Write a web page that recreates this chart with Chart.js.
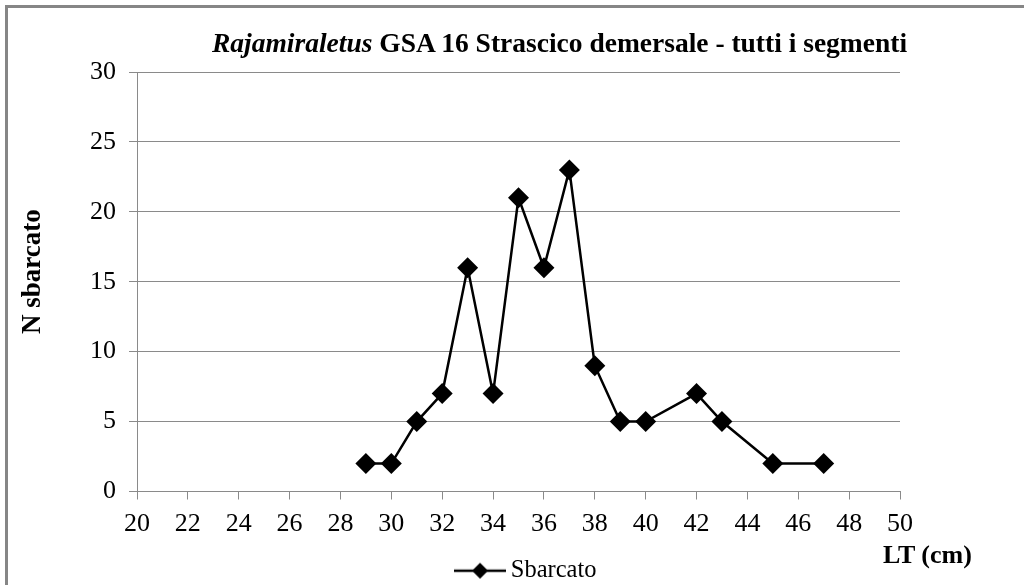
<!DOCTYPE html>
<html>
<head>
<meta charset="utf-8">
<script src="https://cdn.jsdelivr.net/npm/chart.js@4.4.1/dist/chart.umd.min.js"></script>
<style>
  html, body { margin: 0; padding: 0; background: #fff; overflow: hidden; }
  #wrap { position: relative; width: 1024px; height: 585px; overflow: hidden; }
  #frame { position: absolute; left: 5px; top: 5px; width: 1100px; height: 700px;
           border-left: 3px solid #868686; border-top: 3px solid #868686; }
  #cv { position: absolute; left: 0; top: 0; }
  .txt { position: absolute; font-family: "Liberation Serif", "Times New Roman", serif;
         font-weight: bold; line-height: 26px; color: #000; white-space: nowrap; }
  #title { left: 212px; top: 30px; font-size: 27.5px; }
  #xtitle { left: 883px; top: 542px; font-size: 26px; }
</style>
</head>
<body>
<div id="wrap">
  <div id="frame"></div>
  <canvas id="cv" width="1024" height="593"></canvas>
  <div id="title" class="txt"><i>Rajamiraletus</i> GSA 16 Strascico demersale - tutti i segmenti</div>
  <div id="xtitle" class="txt">LT (cm)</div>
</div>
<script>
const lengths = [29, 30, 31, 32, 33, 34, 35, 36, 37, 38, 39, 40, 42, 43, 45, 47];
const counts  = [2, 2, 5, 7, 16, 7, 21, 16, 23, 9, 5, 5, 7, 5, 2, 2];
const xTicks  = [20, 22, 24, 26, 28, 30, 32, 34, 36, 38, 40, 42, 44, 46, 48, 50];
const yTicks  = [0, 5, 10, 15, 20, 25, 30];
const seriesName = 'Sbarcato';
const yTitle = 'N sbarcato';

const FONT = '"Liberation Serif", "Times New Roman", serif';
const GRAY = '#8a8a8a';

/* legend swatch: line with diamond */
function legendSwatch() {
  const c = document.createElement('canvas');
  c.width = 52; c.height = 20;
  const g = c.getContext('2d');
  g.strokeStyle = '#000'; g.lineWidth = 2.5;
  g.beginPath(); g.moveTo(0, 10); g.lineTo(52, 10); g.stroke();
  g.fillStyle = '#000';
  g.beginPath(); g.moveTo(26, 2); g.lineTo(34, 10); g.lineTo(26, 18); g.lineTo(18, 10); g.closePath(); g.fill();
  return c;
}
const swatch = legendSwatch();

new Chart(document.getElementById('cv'), {
  type: 'line',
  data: {
    datasets: [{
      label: seriesName,
      data: lengths.map((x, i) => ({ x, y: counts[i] })),
      borderColor: '#000',
      backgroundColor: '#000',
      borderWidth: 2.5,
      tension: 0,
      pointStyle: 'rectRot',
      pointRadius: 10.5,
      pointBackgroundColor: '#000',
      pointBorderColor: '#000',
      pointBorderWidth: 0,
    }],
  },
  options: {
    responsive: false,
    animation: false,
    layout: { padding: { left: 34, right: 0, top: 72, bottom: 0 } },
    plugins: {
      tooltip: { enabled: false },
      legend: {
        position: 'bottom',
        labels: {
          color: '#000',
          font: { family: FONT, size: 24.5 },
          usePointStyle: true,
          pointStyleWidth: 37,
          padding: 6,
          generateLabels: chart => chart.data.datasets.map((ds, i) => ({
            text: ds.label, pointStyle: swatch, fillStyle: '#000', strokeStyle: '#000',
            lineWidth: 0, hidden: false, datasetIndex: i,
          })),
        },
      },
    },
    scales: {
      x: {
        type: 'linear',
        min: 20, max: 50,
        afterBuildTicks: s => { s.ticks = xTicks.map(v => ({ value: v })); },
        afterFit: s => { s.height = 61; },
        grid: { drawOnChartArea: false, drawTicks: true, tickLength: 8, color: GRAY },
        border: { color: GRAY, width: 1 },
        ticks: { color: '#000', font: { family: FONT, size: 26 }, padding: 9, maxRotation: 0 },
      },
      y: {
        min: 0, max: 30,
        afterBuildTicks: s => { s.ticks = yTicks.map(v => ({ value: v })); },
        afterFit: s => { s.width = 103; },
        grid: { color: GRAY, tickLength: 8 },
        border: { color: GRAY, width: 1 },
        ticks: { color: '#000', font: { family: FONT, size: 26 }, padding: 13 },
        title: {
          display: true, text: '\u00a0\u00a0\u00a0' + yTitle, color: '#000',
          font: { family: FONT, size: 27, weight: 'bold' },
          padding: { top: -17, bottom: 0 },
        },
      },
      /* empty right-hand spacer so the plot ends at the same place as the original */
      yR: {
        position: 'right',
        display: true,
        afterFit: s => { s.width = 124; },
        grid: { display: false },
        border: { display: false },
        ticks: { display: false },
      },
    },
  },
});
</script>
</body>
</html>
